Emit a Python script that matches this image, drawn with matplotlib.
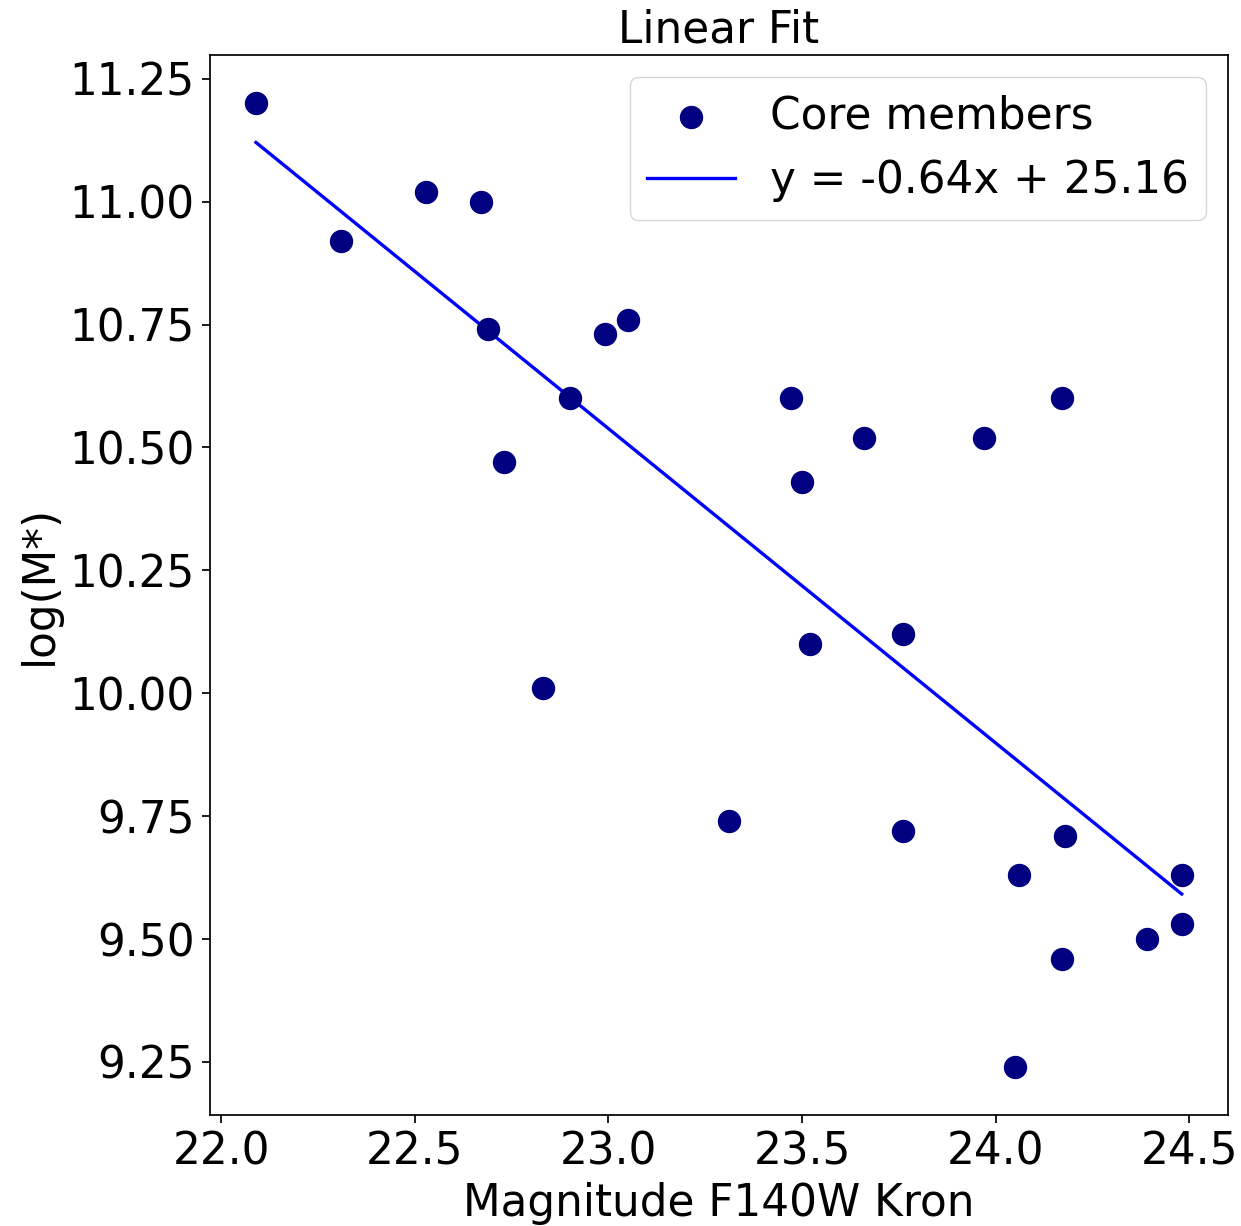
import numpy as np
import matplotlib
matplotlib.use("Agg")
import matplotlib.pyplot as plt

# core member magnitudes (F140W Kron) and stellar masses
mag = [22.09, 22.31, 22.53, 22.67, 22.69, 22.73, 22.83, 22.90, 22.99, 23.05,
       23.31, 23.47, 23.50, 23.52, 23.66, 23.76, 23.76, 23.97, 24.05, 24.06,
       24.17, 24.17, 24.18, 24.39, 24.48, 24.48]
logm = [11.20, 10.92, 11.02, 11.00, 10.74, 10.47, 10.01, 10.60, 10.73, 10.76,
        9.74, 10.60, 10.43, 10.10, 10.52, 10.12, 9.72, 10.52, 9.24, 9.63,
        10.60, 9.46, 9.71, 9.50, 9.63, 9.53]
fit_label = 'y = -0.64x + 25.16'

mag = np.array(mag)
logm = np.array(logm)
slope, intercept = np.polyfit(mag, logm, 1)
xfit = np.array([mag.min(), mag.max()])

fs = 31.5
fig = plt.figure(figsize=(12.41, 12.26), dpi=100)
ax = fig.add_axes([0.169, 0.0905, 0.8205, 0.8645])
ax.scatter(mag, logm, s=250, color='navy', label='Core members', zorder=3)
ax.plot(xfit, slope * xfit + intercept, color='blue', linewidth=2.4, label=fit_label)
ax.set_title('Linear Fit', fontsize=fs, pad=9)
ax.set_xlabel('Magnitude F140W Kron', fontsize=fs, labelpad=6)
ax.set_ylabel('log(M*)', fontsize=fs, labelpad=6)
ax.tick_params(labelsize=fs, length=5.5, width=1.25, pad=5.5)
for s in ax.spines.values():
    s.set_linewidth(1.25)
ax.legend(loc='upper right', fontsize=fs)
fig.savefig('out.png')
